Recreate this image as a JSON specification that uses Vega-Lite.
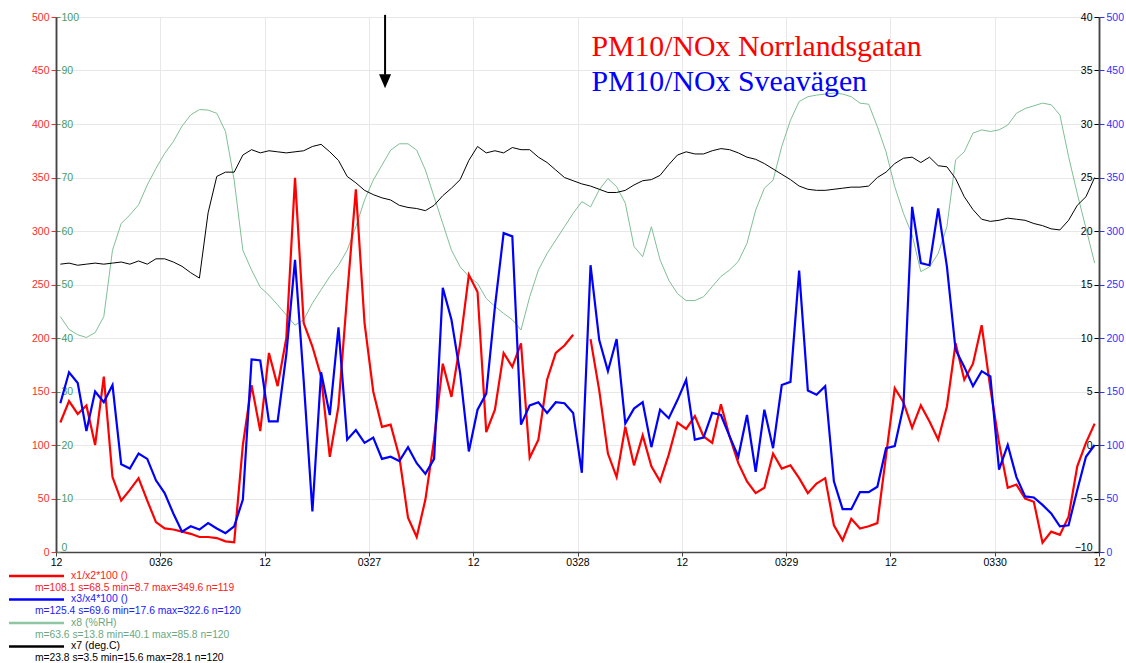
{
  "$schema": "https://vega.github.io/schema/vega-lite/v6.json",
  "background": "white",
  "padding": {"left": 7, "top": 12, "right": 0, "bottom": 0},
  "spacing": 2,
  "resolve": {"scale": {"color": "independent", "stroke": "independent", "strokeWidth": "independent"}},
  "config": {
    "view": {"stroke": null},
    "font": "Liberation Sans",
    "axis": {"labelFont": "Liberation Sans", "labelFontSize": 10.5, "title": null, "labelFlush": false, "labelOverlap": false}
  },
  "datasets": {
    "series": [
      {"hour":0.5,"norr":121,"svea":139,"rh":44,"temp":16.9},
      {"hour":1.5,"norr":141,"svea":168,"rh":41.6,"temp":17.0},
      {"hour":2.5,"norr":129,"svea":158,"rh":40.6,"temp":16.8},
      {"hour":3.5,"norr":137,"svea":113,"rh":40.1,"temp":16.9},
      {"hour":4.5,"norr":100,"svea":150,"rh":41,"temp":17.0},
      {"hour":5.5,"norr":164,"svea":140,"rh":44,"temp":16.9},
      {"hour":6.5,"norr":70,"svea":156,"rh":56.4,"temp":17.0},
      {"hour":7.5,"norr":48,"svea":82,"rh":61.4,"temp":17.1},
      {"hour":8.5,"norr":58,"svea":78,"rh":63,"temp":16.9},
      {"hour":9.5,"norr":69,"svea":92,"rh":64.9,"temp":17.2},
      {"hour":10.5,"norr":48,"svea":87,"rh":68.6,"temp":16.9},
      {"hour":11.5,"norr":28,"svea":67,"rh":71.7,"temp":17.4},
      {"hour":12.5,"norr":22,"svea":55,"rh":74.5,"temp":17.4},
      {"hour":13.5,"norr":21,"svea":36,"rh":76.7,"temp":17.1},
      {"hour":14.5,"norr":19,"svea":19,"rh":79.6,"temp":16.7},
      {"hour":15.5,"norr":17,"svea":24,"rh":81.7,"temp":16.1},
      {"hour":16.5,"norr":14,"svea":21,"rh":82.7,"temp":15.6},
      {"hour":17.5,"norr":14,"svea":27,"rh":82.6,"temp":21.7},
      {"hour":18.5,"norr":13,"svea":22,"rh":82,"temp":25.1},
      {"hour":19.5,"norr":10,"svea":17.6,"rh":78.6,"temp":25.5},
      {"hour":20.5,"norr":9,"svea":24,"rh":69.5,"temp":25.5},
      {"hour":21.5,"norr":100,"svea":49,"rh":56.4,"temp":27.1},
      {"hour":22.5,"norr":156,"svea":180,"rh":52.7,"temp":27.6},
      {"hour":23.5,"norr":113,"svea":179,"rh":49.5,"temp":27.3},
      {"hour":24.5,"norr":186,"svea":122,"rh":48,"temp":27.5},
      {"hour":25.5,"norr":155,"svea":122,"rh":46.2,"temp":27.4},
      {"hour":26.5,"norr":200,"svea":185,"rh":44.3,"temp":27.3},
      {"hour":27.5,"norr":349.6,"svea":273,"rh":42.4,"temp":27.4},
      {"hour":28.5,"norr":214,"svea":160,"rh":43.4,"temp":27.5},
      {"hour":29.5,"norr":192,"svea":38,"rh":46.5,"temp":27.9},
      {"hour":30.5,"norr":164,"svea":168,"rh":49,"temp":28.1},
      {"hour":31.5,"norr":89,"svea":128,"rh":51.5,"temp":27.4},
      {"hour":32.5,"norr":136,"svea":210,"rh":53.6,"temp":26.6},
      {"hour":33.5,"norr":240,"svea":105,"rh":56.4,"temp":25.1},
      {"hour":34.5,"norr":339,"svea":114,"rh":60.8,"temp":24.5},
      {"hour":35.5,"norr":214,"svea":102,"rh":65.8,"temp":23.8},
      {"hour":36.5,"norr":150,"svea":107,"rh":69.5,"temp":23.4},
      {"hour":37.5,"norr":117,"svea":87,"rh":72.3,"temp":23.1},
      {"hour":38.5,"norr":119,"svea":89,"rh":75.1,"temp":22.9},
      {"hour":39.5,"norr":89,"svea":85,"rh":76.3,"temp":22.4},
      {"hour":40.5,"norr":32,"svea":98,"rh":76.3,"temp":22.2},
      {"hour":41.5,"norr":14,"svea":83,"rh":75.1,"temp":22.1},
      {"hour":42.5,"norr":49,"svea":73,"rh":71.4,"temp":21.9},
      {"hour":43.5,"norr":105,"svea":87,"rh":66.4,"temp":22.4},
      {"hour":44.5,"norr":176,"svea":247,"rh":61.4,"temp":23.3},
      {"hour":45.5,"norr":145,"svea":217,"rh":56.4,"temp":24.0},
      {"hour":46.5,"norr":195,"svea":167,"rh":53.3,"temp":24.8},
      {"hour":47.5,"norr":259,"svea":94,"rh":51.5,"temp":26.6},
      {"hour":48.5,"norr":243,"svea":133,"rh":50.2,"temp":27.9},
      {"hour":49.5,"norr":112,"svea":148,"rh":47.4,"temp":27.3},
      {"hour":50.5,"norr":133,"svea":229,"rh":45.9,"temp":27.5},
      {"hour":51.5,"norr":186,"svea":298,"rh":44.6,"temp":27.3},
      {"hour":52.5,"norr":173,"svea":295,"rh":43.4,"temp":27.8},
      {"hour":53.5,"norr":195,"svea":119,"rh":41.5,"temp":27.6},
      {"hour":54.5,"norr":88,"svea":137,"rh":47.7,"temp":27.6},
      {"hour":55.5,"norr":105,"svea":140,"rh":52.7,"temp":26.9},
      {"hour":56.5,"norr":161,"svea":130,"rh":55.8,"temp":26.4},
      {"hour":57.5,"norr":186,"svea":140,"rh":58.3,"temp":25.7},
      {"hour":58.5,"norr":193,"svea":139,"rh":60.8,"temp":25.0},
      {"hour":59.5,"norr":203,"svea":130,"rh":63.3,"temp":24.7},
      {"hour":60.5,"norr":null,"svea":74,"rh":65.5,"temp":24.4},
      {"hour":61.5,"norr":199,"svea":268,"rh":64.5,"temp":24.2},
      {"hour":62.5,"norr":151,"svea":198,"rh":67.7,"temp":23.9},
      {"hour":63.5,"norr":92,"svea":169,"rh":69.8,"temp":23.6},
      {"hour":64.5,"norr":70,"svea":199,"rh":68.3,"temp":23.6},
      {"hour":65.5,"norr":117,"svea":120,"rh":65.2,"temp":23.8},
      {"hour":66.5,"norr":81,"svea":134,"rh":57.1,"temp":24.3},
      {"hour":67.5,"norr":109,"svea":140,"rh":55.2,"temp":24.7},
      {"hour":68.5,"norr":80,"svea":98,"rh":60.8,"temp":24.8},
      {"hour":69.5,"norr":66,"svea":133,"rh":54.6,"temp":25.2},
      {"hour":70.5,"norr":91,"svea":125,"rh":50.8,"temp":26.2},
      {"hour":71.5,"norr":121,"svea":142,"rh":48.3,"temp":27.1},
      {"hour":72.5,"norr":115,"svea":161,"rh":47,"temp":27.4},
      {"hour":73.5,"norr":127,"svea":105,"rh":47,"temp":27.2},
      {"hour":74.5,"norr":108,"svea":107,"rh":47.7,"temp":27.2},
      {"hour":75.5,"norr":102,"svea":130,"rh":49.6,"temp":27.5},
      {"hour":76.5,"norr":138,"svea":128,"rh":51.5,"temp":27.7},
      {"hour":77.5,"norr":108,"svea":108,"rh":52.7,"temp":27.6},
      {"hour":78.5,"norr":83,"svea":89,"rh":54.3,"temp":27.3},
      {"hour":79.5,"norr":66,"svea":128,"rh":57.7,"temp":26.9},
      {"hour":80.5,"norr":55,"svea":75,"rh":63.9,"temp":26.7},
      {"hour":81.5,"norr":60,"svea":133,"rh":68,"temp":26.3},
      {"hour":82.5,"norr":92,"svea":97,"rh":69.5,"temp":25.8},
      {"hour":83.5,"norr":78,"svea":156,"rh":75.8,"temp":25.3},
      {"hour":84.5,"norr":81,"svea":159,"rh":80.7,"temp":24.8},
      {"hour":85.5,"norr":69,"svea":263,"rh":84.2,"temp":24.2},
      {"hour":86.5,"norr":55,"svea":151,"rh":85.1,"temp":23.9},
      {"hour":87.5,"norr":64,"svea":147,"rh":85.4,"temp":23.8},
      {"hour":88.5,"norr":69,"svea":155,"rh":85.6,"temp":23.8},
      {"hour":89.5,"norr":25,"svea":66,"rh":85.8,"temp":23.9},
      {"hour":90.5,"norr":11,"svea":40,"rh":85.6,"temp":24.0},
      {"hour":91.5,"norr":31,"svea":40,"rh":85.1,"temp":24.1},
      {"hour":92.5,"norr":22,"svea":56,"rh":83.9,"temp":24.1},
      {"hour":93.5,"norr":24,"svea":56,"rh":83.7,"temp":24.2},
      {"hour":94.5,"norr":27,"svea":61,"rh":79.5,"temp":25.0},
      {"hour":95.5,"norr":90,"svea":97,"rh":74.8,"temp":25.5},
      {"hour":96.5,"norr":153,"svea":99,"rh":68.3,"temp":26.3},
      {"hour":97.5,"norr":140,"svea":136,"rh":63.3,"temp":26.8},
      {"hour":98.5,"norr":116,"svea":322.6,"rh":59.3,"temp":26.9},
      {"hour":99.5,"norr":137,"svea":270,"rh":52.4,"temp":26.4},
      {"hour":100.5,"norr":122,"svea":268,"rh":53.3,"temp":26.9},
      {"hour":101.5,"norr":105,"svea":321,"rh":55.8,"temp":26.1},
      {"hour":102.5,"norr":136,"svea":267,"rh":60.8,"temp":26.0},
      {"hour":103.5,"norr":195,"svea":189,"rh":73.3,"temp":24.9},
      {"hour":104.5,"norr":161,"svea":173,"rh":74.8,"temp":23.2},
      {"hour":105.5,"norr":176,"svea":155,"rh":78.3,"temp":22.0},
      {"hour":106.5,"norr":212,"svea":169,"rh":78.9,"temp":21.1},
      {"hour":107.5,"norr":153,"svea":164,"rh":78.6,"temp":20.9},
      {"hour":108.5,"norr":102,"svea":77,"rh":78.9,"temp":21.0},
      {"hour":109.5,"norr":60,"svea":100,"rh":79.8,"temp":21.2},
      {"hour":110.5,"norr":63,"svea":70,"rh":82,"temp":21.1},
      {"hour":111.5,"norr":50,"svea":52,"rh":82.9,"temp":21.0},
      {"hour":112.5,"norr":47,"svea":51,"rh":83.4,"temp":20.7},
      {"hour":113.5,"norr":8.7,"svea":44,"rh":83.9,"temp":20.5},
      {"hour":114.5,"norr":19,"svea":36,"rh":83.6,"temp":20.2},
      {"hour":115.5,"norr":16,"svea":24,"rh":81.7,"temp":20.1},
      {"hour":116.5,"norr":33,"svea":25,"rh":73.9,"temp":21.0},
      {"hour":117.5,"norr":80,"svea":58,"rh":67,"temp":22.4},
      {"hour":118.5,"norr":102,"svea":89,"rh":60.5,"temp":23.2},
      {"hour":119.5,"norr":120,"svea":100,"rh":54,"temp":25.0}
    ],
    "notes": [
      {"hour": 61.6, "value": 464, "text": "PM10/NOx Norrlandsgatan"},
      {"hour": 61.6, "value": 431, "text": "PM10/NOx Sveavägen"}
    ],
    "arrow": [
      {"hour": 37.86, "top": 502, "end": 446, "head": 440}
    ],
    "legend": [
      {"label": "x1/x2*100 ()", "stats": "m=108.1 s=68.5 min=8.7 max=349.6 n=119"},
      {"label": "x3/x4*100 ()", "stats": "m=125.4 s=69.6 min=17.6 max=322.6 n=120"},
      {"label": "x8 (%RH)", "stats": "m=63.6 s=13.8 min=40.1 max=85.8 n=120"},
      {"label": "x7 (deg.C)", "stats": "m=23.8 s=3.5 min=15.6 max=28.1 n=120"}
    ]
  },
  "vconcat": [
    {
      "width": 1043,
      "height": 535,
      "encoding": {
        "x": {
          "field": "hour", "type": "quantitative",
          "scale": {"domain": [0, 120], "nice": false, "zero": false},
          "axis": {
            "values": [0, 12, 24, 36, 48, 60, 72, 84, 96, 108, 120],
            "labelExpr": "datum.value % 24 == 0 ? '12' : '03' + (26 + floor(datum.value / 24))",
            "grid": true, "gridColor": "#e8e8e8",
            "domainColor": "#444444", "domainWidth": 1.5,
            "tickColor": "#444444", "tickSize": 4,
            "labelColor": "#000000", "labelPadding": 1, "title": null
          }
        }
      },
      "layer": [
        {
          "data": {"name": "series"},
          "mark": {"type": "line", "color": "#7fbf96", "strokeWidth": 1},
          "encoding": {
            "y": {
              "field": "rh", "type": "quantitative",
              "scale": {"domain": [0, 100], "nice": false, "zero": false},
              "axis": {
                "orient": "left", "values": [0,10,20,30,40,50,60,70,80,90,100],
                "grid": false, "labelColor": "#4a9a6a", "tickColor": "#4a9a6a",
                "tickSize": -4, "labelPadding": -1, "labelAlign": "left",
                "labelBaseline": {"condition": {"test": "datum.value == 0", "value": "bottom"}, "value": "middle"},
                "domainColor": "#444444", "domainWidth": 1.5, "title": null
              }
            }
          }
        },
        {
          "data": {"name": "series"},
          "mark": {"type": "line", "color": "#000000", "strokeWidth": 1},
          "encoding": {
            "y": {
              "field": "temp", "type": "quantitative",
              "scale": {"domain": [-10, 40], "nice": false, "zero": false},
              "axis": {
                "orient": "right", "values": [-10,-5,0,5,10,15,20,25,30,35,40],
                "grid": false, "labelColor": "#000000", "tickColor": "#000000",
                "tickSize": -5, "labelPadding": -2, "labelAlign": "right",
                "labelBaseline": {"condition": {"test": "datum.value == -10", "value": "bottom"}, "value": "middle"},
                "domainColor": "#444444", "domainWidth": 1.5, "title": null
              }
            }
          }
        },
        {
          "layer": [
            {
              "data": {"name": "series"},
              "mark": {"type": "line", "color": "#ff0000", "strokeWidth": 2.2, "invalid": "break-paths-filter-domains"},
              "encoding": {
                "y": {
                  "field": "norr", "type": "quantitative",
                  "scale": {"domain": [0, 500], "nice": false, "zero": false},
                  "axis": {
                    "orient": "left", "values": [0,50,100,150,200,250,300,350,400,450,500],
                    "grid": true, "gridColor": "#e8e8e8",
                    "labelColor": "#ff2a2a", "tickColor": "#ff2a2a",
                    "tickSize": 5, "labelPadding": 2,
                    "domainColor": "#444444", "domainWidth": 1.5, "title": null
                  }
                }
              }
            },
            {
              "data": {"name": "notes"},
              "mark": {"type": "text", "font": "Liberation Serif", "fontSize": 29.8, "align": "left", "baseline": "alphabetic"},
              "encoding": {
                "y": {"field": "value", "type": "quantitative"},
                "text": {"field": "text"},
                "color": {
                  "field": "text", "type": "nominal",
                  "scale": {"domain": ["PM10/NOx Norrlandsgatan", "PM10/NOx Sveavägen"], "range": ["#ff0000", "#0000ff"]},
                  "legend": null
                }
              }
            },
            {
              "data": {"name": "arrow"},
              "mark": {"type": "rule", "color": "#000000", "strokeWidth": 2},
              "encoding": {
                "y": {"field": "top", "type": "quantitative"},
                "y2": {"field": "end"}
              }
            },
            {
              "data": {"name": "arrow"},
              "mark": {"type": "point", "shape": "M-0.86,-1L0.86,-1L0,1Z", "size": 196, "filled": true, "color": "#000000", "opacity": 1},
              "encoding": {
                "y": {"field": "head", "type": "quantitative"}
              }
            }
          ]
        },
        {
          "data": {"name": "series"},
          "mark": {"type": "line", "color": "#0000ff", "strokeWidth": 2.2},
          "encoding": {
            "y": {
              "field": "svea", "type": "quantitative",
              "scale": {"domain": [0, 500], "nice": false, "zero": false},
              "axis": {
                "orient": "right", "values": [0,50,100,150,200,250,300,350,400,450,500],
                "grid": false, "labelColor": "#3030ff", "tickColor": "#3030ff",
                "tickSize": 5, "labelPadding": 2, "labelAlign": "left",
                "domainColor": "#444444", "domainWidth": 1.5, "title": null
              }
            }
          }
        }
      ],
      "resolve": {"scale": {"y": "independent"}, "axis": {"y": "independent"}}
    },
    {
      "width": 1043,
      "height": 94,
      "data": {"name": "legend"},
      "layer": [
        {
          "mark": {"type": "rule"},
          "encoding": {
            "x": {"datum": -5.41, "type": "quantitative", "scale": {"domain": [0, 120], "nice": false, "zero": false}, "axis": null},
            "x2": {"datum": 0.92},
            "y": {"field": "label", "type": "nominal", "sort": null, "bandPosition": 0.25,
                  "scale": {"type": "band", "paddingInner": 0, "paddingOuter": 0, "domain": ["x1/x2*100 ()", "x3/x4*100 ()", "x8 (%RH)", "x7 (deg.C)"]}, "axis": null},
            "stroke": {"field": "label", "type": "nominal",
                       "scale": {"domain": ["x1/x2*100 ()", "x3/x4*100 ()", "x8 (%RH)", "x7 (deg.C)"], "range": ["#ff0000", "#0000ff", "#8cc6a2", "#000000"]}, "legend": null},
            "strokeWidth": {"field": "label", "type": "nominal",
                       "scale": {"domain": ["x1/x2*100 ()", "x3/x4*100 ()", "x8 (%RH)", "x7 (deg.C)"], "range": [2.5, 2.5, 2, 1]}, "legend": null}
          }
        },
        {
          "mark": {"type": "text", "align": "left", "baseline": "middle", "fontSize": 10.5, "font": "Liberation Sans"},
          "encoding": {
            "x": {"datum": 1.73, "type": "quantitative", "scale": {"domain": [0, 120], "nice": false, "zero": false}, "axis": null},
            "y": {"field": "label", "type": "nominal", "sort": null, "bandPosition": 0.25,
                  "scale": {"type": "band", "paddingInner": 0, "paddingOuter": 0, "domain": ["x1/x2*100 ()", "x3/x4*100 ()", "x8 (%RH)", "x7 (deg.C)"]}, "axis": null},
            "text": {"field": "label"},
            "color": {"field": "label", "type": "nominal",
                      "scale": {"domain": ["x1/x2*100 ()", "x3/x4*100 ()", "x8 (%RH)", "x7 (deg.C)"], "range": ["#ff2020", "#2020ff", "#6aa87f", "#000000"]}, "legend": null}
          }
        },
        {
          "mark": {"type": "text", "align": "left", "baseline": "middle", "fontSize": 10.3, "font": "Liberation Sans"},
          "encoding": {
            "x": {"datum": -2.42, "type": "quantitative", "scale": {"domain": [0, 120], "nice": false, "zero": false}, "axis": null},
            "y": {"field": "label", "type": "nominal", "sort": null, "bandPosition": 0.75,
                  "scale": {"type": "band", "paddingInner": 0, "paddingOuter": 0, "domain": ["x1/x2*100 ()", "x3/x4*100 ()", "x8 (%RH)", "x7 (deg.C)"]}, "axis": null},
            "text": {"field": "stats"},
            "color": {"field": "label", "type": "nominal",
                      "scale": {"domain": ["x1/x2*100 ()", "x3/x4*100 ()", "x8 (%RH)", "x7 (deg.C)"], "range": ["#ff2020", "#2020ff", "#6aa87f", "#000000"]}, "legend": null}
          }
        }
      ]
    }
  ]
}
